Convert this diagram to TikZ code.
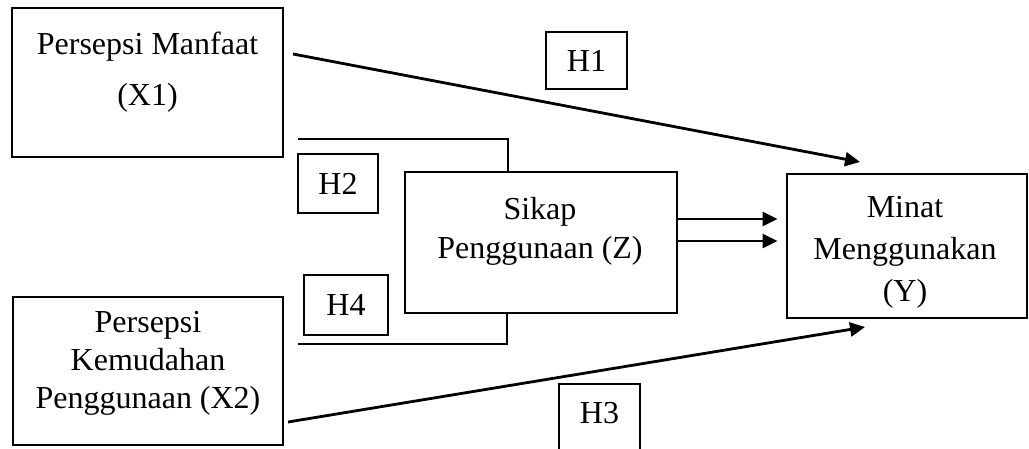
\documentclass[tikz,border=0pt]{standalone}
\usepackage{fontspec}
\setmainfont{Liberation Serif}
\usetikzlibrary{arrows.meta}
\tikzset{
  bigbox/.style={draw, line width=2.8pt, inner sep=0pt},
  hbox/.style={draw, line width=1.8pt, inner sep=0pt, font=\fontsize{32}{40}\selectfont},
  txt/.style={align=center, inner sep=0pt},
  conn/.style={line width=2.8pt},
  arr/.style={line width=2.8pt, -{Triangle[length=15pt,width=14pt]}}
}
\begin{document}
\begin{tikzpicture}[x=1pt,y=-1pt]
\useasboundingbox (0,0) rectangle (1029,448);
\clip (0,0) rectangle (1029,448);
% main boxes
\node[bigbox, minimum width=271pt, minimum height=149pt] (x1) at (147.5,82.5) {};
\node[bigbox, minimum width=270pt, minimum height=148pt] (x2) at (148,371) {};
\node[bigbox, minimum width=272pt, minimum height=141pt] (z) at (541,242.5) {};
\node[bigbox, minimum width=240pt, minimum height=144pt] (y) at (907,246) {};
% texts
\node[txt, font=\fontsize{32}{51}\selectfont] (x1t) at (147.5,72) {Persepsi Manfaat\\(X1)};
\node[txt, font=\fontsize{32}{38}\selectfont] (x2t) at (148,363.5) {Persepsi\\Kemudahan\\Penggunaan (X2)};
\node[txt, font=\fontsize{32}{39}\selectfont] (zt) at (540,231) {Sikap\\Penggunaan (Z)};
\node[txt, font=\fontsize{32}{42}\selectfont] (yt) at (905,252.5) {Minat\\Menggunakan\\(Y)};
% hypothesis labels
\node[hbox, minimum width=81pt, minimum height=57pt] (h1) at (586.5,60.5) {H1};
\node[hbox, minimum width=80pt, minimum height=59pt] (h2) at (338,183.5) {H2};
\node[hbox, minimum width=84pt, minimum height=60pt] (h4) at (346,305) {H4};
\node[txt, font=\fontsize{32}{40}\selectfont] (h3) at (599.5,413) {H3};
\draw[line width=1.8pt] (559,470) -- (559,384) -- (640,384) -- (640,470);
% H1 and H3 arrows
\coordinate (h1s) at (293,54);
\coordinate (h1e) at (860,162);
\draw[arr] (h1s) -- (h1e);
\coordinate (h3s) at (288,422);
\coordinate (h3e) at (865,327);
\draw[arr] (h3s) -- (h3e);
% H2 and H4 brackets
\coordinate (b2) at (298,139);
\draw[conn] (b2) -- (508,139) -- (z.north -| 508,0);
\coordinate (b4) at (298,344);
\draw[conn] (b4) -- (507,344) -- (z.south -| 507,0);
% Z to Y arrows
\draw[arr, shorten >=8pt] (z.east |- 0,219) -- (y.west |- 0,219);
\draw[arr, shorten >=8pt] (z.east |- 0,241) -- (y.west |- 0,241);
\end{tikzpicture}
\end{document}
